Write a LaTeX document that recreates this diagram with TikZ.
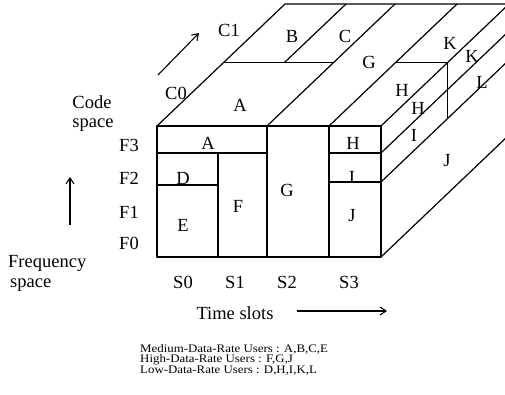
\documentclass[tikz,border=0pt]{standalone}
\usepackage{fontspec}
\setmainfont{Liberation Serif}
\newfontfamily\legendfont[FakeStretch=1.12]{Liberation Serif}
\usetikzlibrary{arrows.meta}
\begin{document}
\begin{tikzpicture}[x=1pt,y=-1pt,
  edge/.style={line width=1.2pt, line cap=round, line join=round},
  arr/.style={line width=1.1pt, -{Straight Barb[length=6pt,width=8pt,line width=1.1pt]}},
  lbl/.style={font=\fontsize{18.5}{18.5}\selectfont, inner sep=0pt},
  legend/.style={font=\legendfont\fontsize{11.5}{11.5}\selectfont, inner sep=0pt, anchor=west}]
\useasboundingbox (0,0) rectangle (505,395);

% corners of the front face (time x frequency)
\coordinate (ftl) at (157,126);
\coordinate (ftr) at (381,126);
\coordinate (fbl) at (157,257);
\coordinate (fbr) at (381,257);

\begin{scope}
\clip (0,0) rectangle (505,395);
% front face
\draw[edge] (ftl) rectangle (fbr);
\draw[edge] (157,153) -- (267,153);
\draw[edge] (218,153) -- (218,257);
\draw[edge] (157,185) -- (218,185);
\draw[edge] (267,126) -- (267,257);
\draw[edge] (329,126) -- (329,257);
\draw[edge] (329,153) -- (381,153);
\draw[edge] (329,182) -- (381,182);
% top face (code depth)
\draw[edge] (ftl) -- ++(128,-122) -- ++(230,0);
\draw[edge] (267,126) -- ++(128,-122);
\draw[edge] (329,126) -- ++(128,-122);
\draw[edge] (ftr) -- ++(128,-122);
\draw[edge] (223.5,62.5) -- (333.5,62.5);
\draw[edge] (284.5,62.5) -- (346,4);
\draw[edge] (395.5,62.5) -- (447.5,62.5);
% right side face
\draw[edge] (381,153) -- ++(128,-122);
\draw[edge] (381,182) -- ++(128,-122);
\draw[edge] (fbr) -- ++(128,-122);
\draw[edge] (447.5,62.5) -- (447.5,118.5);
\end{scope}

% labels on the front face
\node[lbl] (fA) at (208,143) {A};
\node[lbl] (fD) at (183,178) {D};
\node[lbl] (fE) at (183,225) {E};
\node[lbl] (fF) at (238,206) {F};
\node[lbl] (fG) at (287,190) {G};
\node[lbl] (fH) at (353,143) {H};
\node[lbl] (fI) at (352,177) {I};
\node[lbl] (fJ) at (352,216) {J};
% labels on the top face
\node[lbl] (tA) at (240,105) {A};
\node[lbl] (tB) at (292,36) {B};
\node[lbl] (tC) at (345,36) {C};
\node[lbl] (tG) at (369,62) {G};
\node[lbl] (tH) at (402,90) {H};
\node[lbl] (tK) at (450,43) {K};
% labels on the side face
\node[lbl] (sH) at (418,108) {H};
\node[lbl] (sI) at (414,135) {I};
\node[lbl] (sJ) at (447,161) {J};
\node[lbl] (sK) at (472,56) {K};
\node[lbl] (sL) at (482,82) {L};

% code axis
\node[lbl] (c0) at (176,93) {C0};
\node[lbl] (c1) at (229,30) {C1};
\coordinate (ca0) at (158,75);
\coordinate (ca1) at (199,33);
\draw[arr] (ca0) -- (ca1);
\node[lbl] (code1) at (92,102.5) {Code};
\node[lbl] (code2) at (93,125.5) {space};

% frequency axis
\node[lbl] (f3) at (129,145) {F3};
\node[lbl] (f2) at (129,178) {F2};
\node[lbl] (f1) at (129,212) {F1};
\node[lbl] (f0) at (129,243) {F0};
\coordinate (fa0) at (70,225);
\coordinate (fa1) at (70,177);
\draw[arr] (fa0) -- (fa1);
\node[lbl, anchor=west] (freq1) at (8,263) {Frequency};
\node[lbl, anchor=west] (freq2) at (10,285.5) {space};

% time axis
\node[lbl] (s0) at (183,282) {S0};
\node[lbl] (s1) at (235,282) {S1};
\node[lbl] (s2) at (287,282) {S2};
\node[lbl] (s3) at (349,282) {S3};
\node[lbl] (time) at (235,313) {Time slots};
\coordinate (ta0) at (297,311);
\coordinate (ta1) at (387,311);
\draw[arr] (ta0) -- (ta1);

% user classes
\node[legend] (lg1) at (140,349) {Medium-Data-Rate Users : A,B,C,E};
\node[legend] (lg2) at (140,360) {High-Data-Rate Users : F,G,J};
\node[legend] (lg3) at (140,371) {Low-Data-Rate Users : D,H,I,K,L};
\end{tikzpicture}
\end{document}
